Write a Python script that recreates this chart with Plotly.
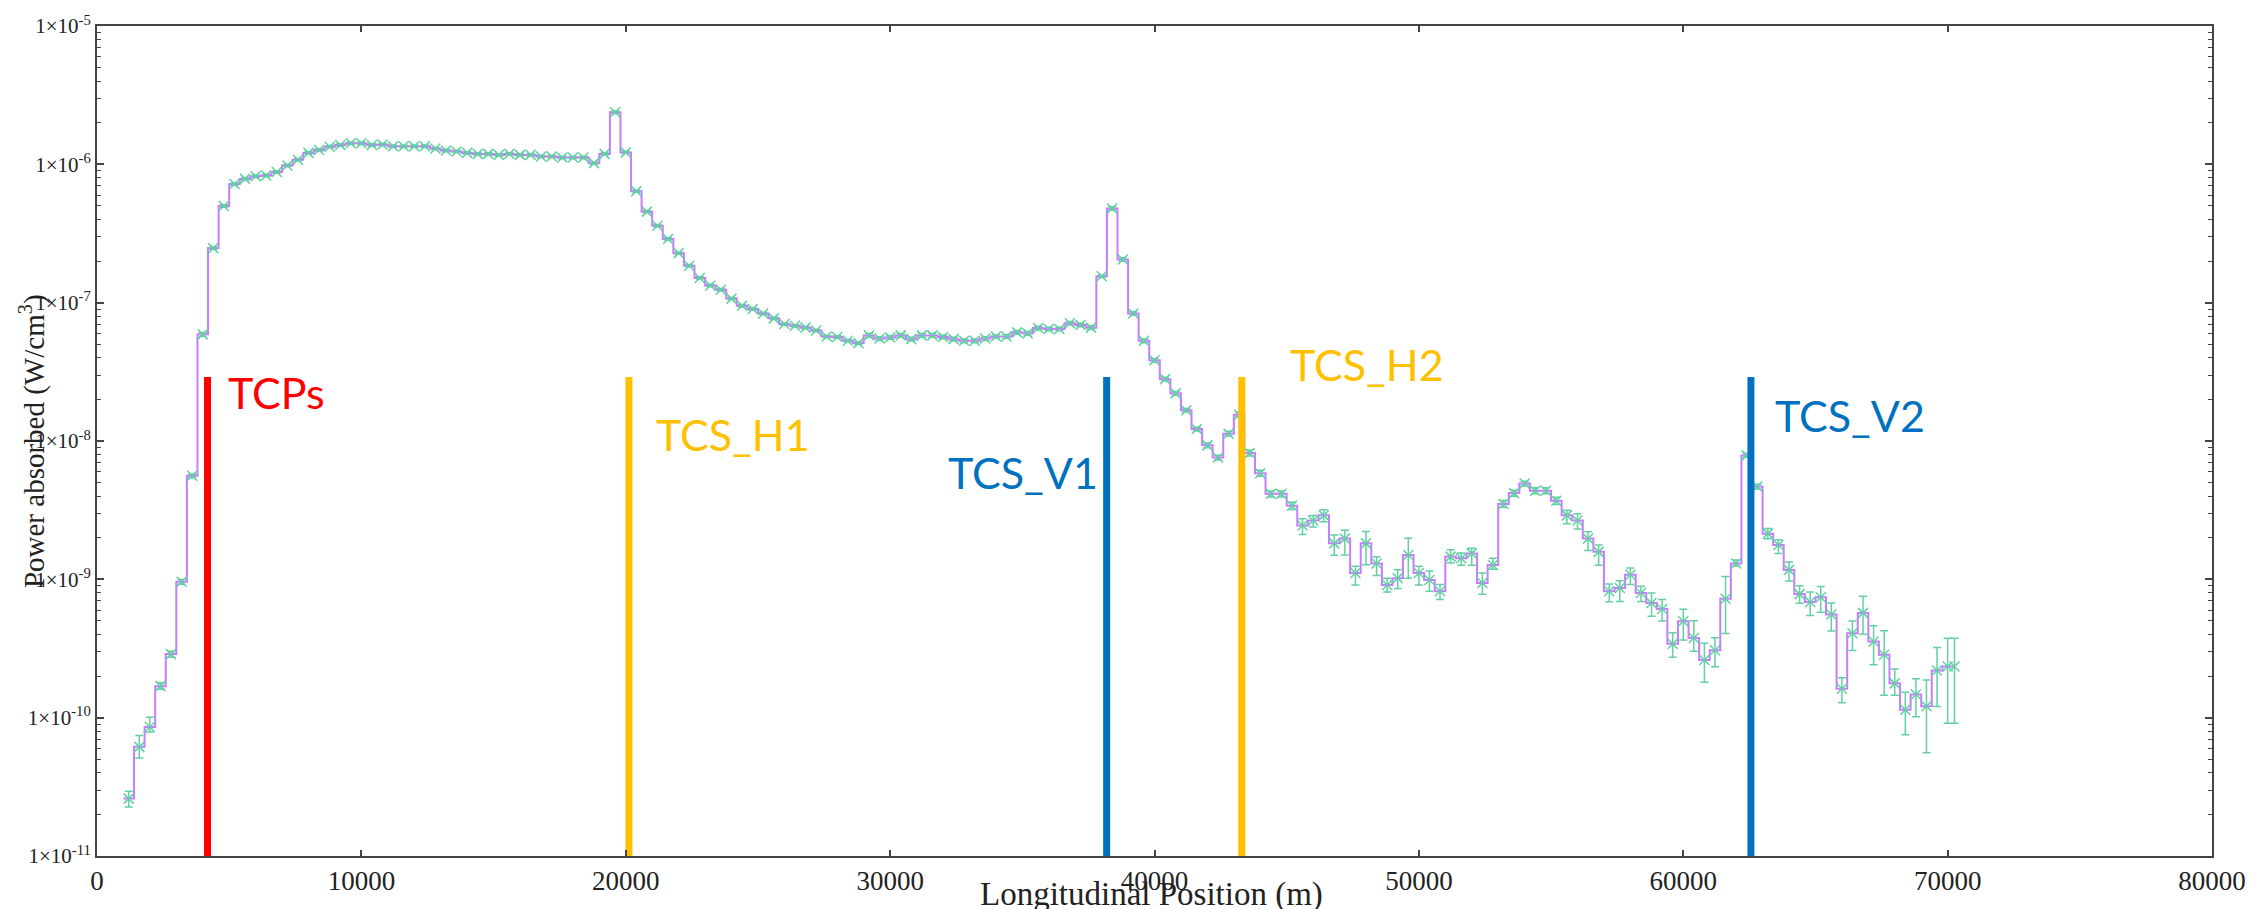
import numpy as np
import plotly.graph_objects as go

# ---------------- data ----------------
# bin centres (m), 400 m bins
bin_center = [
    1200, 1600, 2000, 2400, 2800, 3200, 3600, 4000, 4400, 4800,
    5200, 5600, 6000, 6400, 6800, 7200, 7600, 8000, 8400, 8800,
    9200, 9600, 10000, 10400, 10800, 11200, 11600, 12000, 12400, 12800,
    13200, 13600, 14000, 14400, 14800, 15200, 15600, 16000, 16400, 16800,
    17200, 17600, 18000, 18400, 18800, 19200, 19600, 20000, 20400, 20800,
    21200, 21600, 22000, 22400, 22800, 23200, 23600, 24000, 24400, 24800,
    25200, 25600, 26000, 26400, 26800, 27200, 27600, 28000, 28400, 28800,
    29200, 29600, 30000, 30400, 30800, 31200, 31600, 32000, 32400, 32800,
    33200, 33600, 34000, 34400, 34800, 35200, 35600, 36000, 36400, 36800,
    37200, 37600, 38000, 38400, 38800, 39200, 39600, 40000, 40400, 40800,
    41200, 41600, 42000, 42400, 42800, 43200, 43600, 44000, 44400, 44800,
    45200, 45600, 46000, 46400, 46800, 47200, 47600, 48000, 48400, 48800,
    49200, 49600, 50000, 50400, 50800, 51200, 51600, 52000, 52400, 52800,
    53200, 53600, 54000, 54400, 54800, 55200, 55600, 56000, 56400, 56800,
    57200, 57600, 58000, 58400, 58800, 59200, 59600, 60000, 60400, 60800,
    61200, 61600, 62000, 62400, 62800, 63200, 63600, 64000, 64400, 64800,
    65200, 65600, 66000, 66400, 66800, 67200, 67600, 68000, 68400, 68800,
    69200, 69600, 70000, 70260,
]

# power absorbed (W/cm^3)
power = [
    2.6e-11, 6.15e-11, 8.55e-11, 1.69e-10, 2.88e-10, 9.6e-10, 5.6e-9, 5.9e-8, 2.48e-7, 5.0e-7,
    7.2e-7, 7.85e-7, 8.2e-7, 8.3e-7, 8.8e-7, 9.8e-7, 1.08e-6, 1.21e-6, 1.27e-6, 1.34e-6,
    1.38e-6, 1.42e-6, 1.42e-6, 1.38e-6, 1.39e-6, 1.35e-6, 1.35e-6, 1.35e-6, 1.35e-6, 1.30e-6,
    1.26e-6, 1.24e-6, 1.21e-6, 1.19e-6, 1.19e-6, 1.17e-6, 1.19e-6, 1.17e-6, 1.17e-6, 1.14e-6,
    1.14e-6, 1.12e-6, 1.12e-6, 1.12e-6, 1.02e-6, 1.19e-6, 2.38e-6, 1.22e-6, 6.4e-7, 4.55e-7,
    3.6e-7, 2.89e-7, 2.28e-7, 1.85e-7, 1.51e-7, 1.33e-7, 1.24e-7, 1.07e-7, 9.5e-8, 9.0e-8,
    8.35e-8, 7.7e-8, 7.0e-8, 6.8e-8, 6.6e-8, 6.3e-8, 5.7e-8, 5.65e-8, 5.3e-8, 5.1e-8,
    5.8e-8, 5.5e-8, 5.6e-8, 5.8e-8, 5.45e-8, 5.8e-8, 5.8e-8, 5.65e-8, 5.45e-8, 5.3e-8,
    5.3e-8, 5.5e-8, 5.7e-8, 5.7e-8, 6.1e-8, 6.0e-8, 6.55e-8, 6.45e-8, 6.45e-8, 7.1e-8,
    6.9e-8, 6.6e-8, 1.55e-7, 4.8e-7, 2.05e-7, 8.35e-8, 5.3e-8, 3.83e-8, 2.8e-8, 2.21e-8,
    1.67e-8, 1.22e-8, 9.3e-9, 7.6e-9, 1.13e-8, 1.55e-8, 8.2e-9, 5.85e-9, 4.15e-9, 4.15e-9,
    3.4e-9, 2.45e-9, 2.66e-9, 2.9e-9, 1.82e-9, 1.97e-9, 1.11e-9, 1.82e-9, 1.30e-9, 9.1e-10,
    1.02e-9, 1.5e-9, 1.11e-9, 9.9e-10, 8.2e-10, 1.46e-9, 1.42e-9, 1.54e-9, 9.4e-10, 1.27e-9,
    3.5e-9, 4.2e-9, 4.93e-9, 4.37e-9, 4.37e-9, 3.7e-9, 2.9e-9, 2.66e-9, 1.97e-9, 1.58e-9,
    8.2e-10, 8.65e-10, 1.08e-9, 7.96e-10, 6.75e-10, 6.1e-10, 3.42e-10, 4.98e-10, 3.77e-10, 2.61e-10,
    3.07e-10, 7.24e-10, 1.30e-9, 7.87e-9, 4.69e-9, 2.14e-9, 1.77e-9, 1.17e-9, 7.82e-10, 6.86e-10,
    7.41e-10, 5.57e-10, 1.62e-10, 4.07e-10, 5.72e-10, 3.55e-10, 2.85e-10, 1.77e-10, 1.14e-10, 1.47e-10,
    1.21e-10, 2.19e-10, 2.34e-10, 2.34e-10,
]

# relative statistical errors (upper / lower)
rel_err_up = [
    0.13, 0.21, 0.18, 0.06, 0.05, 0.04, 0.03, 0.03, 0.02, 0.02,
    0.02, 0.02, 0.02, 0.02, 0.02, 0.02, 0.02, 0.02, 0.02, 0.02,
    0.02, 0.02, 0.02, 0.02, 0.02, 0.02, 0.02, 0.02, 0.02, 0.02,
    0.02, 0.02, 0.02, 0.02, 0.02, 0.02, 0.02, 0.02, 0.02, 0.02,
    0.02, 0.02, 0.02, 0.02, 0.02, 0.02, 0.02, 0.02, 0.02, 0.02,
    0.02, 0.02, 0.02, 0.02, 0.02, 0.02, 0.02, 0.02, 0.02, 0.02,
    0.02, 0.02, 0.02, 0.02, 0.02, 0.02, 0.02, 0.02, 0.02, 0.02,
    0.03, 0.03, 0.03, 0.03, 0.03, 0.03, 0.03, 0.03, 0.03, 0.03,
    0.03, 0.03, 0.03, 0.03, 0.03, 0.03, 0.03, 0.03, 0.03, 0.03,
    0.03, 0.03, 0.02, 0.03, 0.03, 0.03, 0.03, 0.03, 0.03, 0.03,
    0.03, 0.03, 0.04, 0.04, 0.04, 0.04, 0.05, 0.05, 0.05, 0.05,
    0.06, 0.12, 0.09, 0.10, 0.15, 0.15, 0.12, 0.22, 0.12, 0.12,
    0.15, 0.32, 0.12, 0.16, 0.12, 0.12, 0.09, 0.09, 0.18, 0.12,
    0.06, 0.05, 0.04, 0.05, 0.05, 0.06, 0.09, 0.12, 0.12, 0.12,
    0.13, 0.13, 0.12, 0.12, 0.18, 0.17, 0.20, 0.22, 0.33, 0.32,
    0.23, 0.45, 0.06, 0.03, 0.04, 0.09, 0.09, 0.14, 0.15, 0.18,
    0.20, 0.21, 0.20, 0.23, 0.32, 0.30, 0.49, 0.27, 0.34, 0.30,
    0.55, 0.47, 0.60, 0.60,
]
rel_err_dn = [
    0.13, 0.17, 0.08, 0.05, 0.05, 0.04, 0.03, 0.03, 0.02, 0.02,
    0.02, 0.02, 0.02, 0.02, 0.02, 0.02, 0.02, 0.02, 0.02, 0.02,
    0.02, 0.02, 0.02, 0.02, 0.02, 0.02, 0.02, 0.02, 0.02, 0.02,
    0.02, 0.02, 0.02, 0.02, 0.02, 0.02, 0.02, 0.02, 0.02, 0.02,
    0.02, 0.02, 0.02, 0.02, 0.02, 0.02, 0.02, 0.02, 0.02, 0.02,
    0.02, 0.02, 0.02, 0.02, 0.02, 0.02, 0.02, 0.02, 0.02, 0.02,
    0.02, 0.02, 0.02, 0.02, 0.02, 0.02, 0.02, 0.02, 0.02, 0.02,
    0.03, 0.03, 0.03, 0.03, 0.03, 0.03, 0.03, 0.03, 0.03, 0.03,
    0.03, 0.03, 0.03, 0.03, 0.03, 0.03, 0.03, 0.03, 0.03, 0.03,
    0.03, 0.03, 0.02, 0.03, 0.03, 0.03, 0.03, 0.03, 0.03, 0.03,
    0.03, 0.03, 0.04, 0.04, 0.04, 0.04, 0.05, 0.05, 0.05, 0.05,
    0.06, 0.14, 0.10, 0.10, 0.18, 0.24, 0.18, 0.30, 0.18, 0.11,
    0.16, 0.32, 0.18, 0.17, 0.13, 0.10, 0.11, 0.18, 0.17, 0.07,
    0.05, 0.05, 0.04, 0.05, 0.05, 0.06, 0.13, 0.13, 0.18, 0.20,
    0.16, 0.20, 0.15, 0.13, 0.20, 0.18, 0.20, 0.27, 0.20, 0.31,
    0.24, 0.44, 0.04, 0.03, 0.04, 0.08, 0.13, 0.17, 0.14, 0.20,
    0.22, 0.24, 0.21, 0.25, 0.30, 0.32, 0.49, 0.18, 0.34, 0.31,
    0.54, 0.45, 0.61, 0.61,
]

# collimator positions (m) and labels
coll_names = ["TCPs", "TCS_H1", "TCS_V1", "TCS_H2", "TCS_V2"]
coll_pos = [4180, 20120, 38190, 43300, 62560]
coll_colors = ["#FF0000", "#FFC000", "#0070C0", "#FFC000", "#0070C0"]
coll_bar_top = 2.9e-8
coll_label_x = [4880, 21070, 32110, 45050, 63390]
coll_label_y = [2.25e-8, 1.11e-8, 5.9e-9, 3.56e-8, 1.54e-8]

x_ticks = [0, 10000, 20000, 30000, 40000, 50000, 60000, 70000, 80000]
y_exps = [-11, -10, -9, -8, -7, -6, -5]

# ---------------- figure ----------------
xc = np.array(bin_center, dtype=float)
yv = np.array(power)
eu = yv * np.array(rel_err_up)
ed = yv * np.array(rel_err_dn)

PURPLE = "#c77dff"
GREEN = "#62d0a2"

fig = go.Figure()

# histogram step line (start at the left edge of the first bin)
step_x = np.concatenate([[xc[0] - 200], xc])
step_y = np.concatenate([[yv[0]], yv])
fig.add_trace(go.Scatter(x=step_x, y=step_y, mode="lines", line_shape="hvh",
                         line=dict(color=PURPLE, width=2), hoverinfo="skip",
                         showlegend=False))

# markers with error bars
fig.add_trace(go.Scatter(x=xc, y=yv, mode="markers",
                         marker=dict(symbol="x-thin", size=10, color=GREEN,
                                     line=dict(color=GREEN, width=1.5)),
                         error_y=dict(type="data", array=eu, arrayminus=ed,
                                      color=GREEN, thickness=1.5, width=4, visible=True),
                         showlegend=False))

# collimator bars
for name, xp, col in zip(coll_names, coll_pos, coll_colors):
    fig.add_trace(go.Scatter(x=[xp, xp], y=[1e-11, coll_bar_top], mode="lines",
                             line=dict(color=col, width=7), hoverinfo="skip",
                             showlegend=False))

annotations = []
for name, lx, ly, col in zip(coll_names, coll_label_x, coll_label_y, coll_colors):
    annotations.append(dict(x=lx, y=np.log10(ly), xref="x", yref="y", text=name,
                            showarrow=False, xanchor="left", yanchor="middle",
                            font=dict(family="Lato", size=43, color=col)))

# axis titles as annotations (the y title overlaps the tick labels as in the source)
annotations.append(dict(x=-0.0307, y=0.50, xref="paper", yref="paper",
                        text="Power absorbed (W/cm<sup>3</sup>)", textangle=-90,
                        showarrow=False, xanchor="center", yanchor="middle",
                        font=dict(family="Liberation Serif", size=29, color="#222")))
annotations.append(dict(x=0.4988, y=-0.022, xref="paper", yref="paper",
                        text="Longitudinal Position (m)", showarrow=False,
                        xanchor="center", yanchor="top",
                        font=dict(family="Liberation Serif", size=33, color="#222")))

minor_vals = [m * 10.0 ** e for e in y_exps[:-1] for m in range(2, 10)]

fig.update_layout(
    width=2262, height=909,
    margin=dict(l=97, r=50, t=19, b=53),
    paper_bgcolor="white", plot_bgcolor="white",
    showlegend=False,
    annotations=annotations,
    xaxis=dict(range=[0, 80000], tickmode="array", tickvals=x_ticks,
               ticktext=[str(v) for v in x_ticks],
               ticks="inside", ticklen=6, tickwidth=1.5, tickcolor="#444",
               showline=True, linecolor="#444", linewidth=2, mirror="ticks",
               showgrid=False, zeroline=False,
               tickfont=dict(family="Liberation Serif", size=27, color="#222")),
    yaxis=dict(type="log", range=[-11, -5], tickmode="array",
               tickvals=[10.0 ** e for e in y_exps],
               ticktext=["1×10<sup>%d</sup>" % e for e in y_exps],
               ticks="inside", ticklen=7, tickwidth=1.5, tickcolor="#444",
               showline=True, linecolor="#444", linewidth=2, mirror="ticks",
               showgrid=False, zeroline=False,
               minor=dict(tickmode="array", tickvals=minor_vals, ticks="inside",
                          ticklen=4, tickwidth=1, tickcolor="#444", showgrid=False),
               tickfont=dict(family="Liberation Serif", size=21, color="#222")),
)

fig.write_html("out.html")
